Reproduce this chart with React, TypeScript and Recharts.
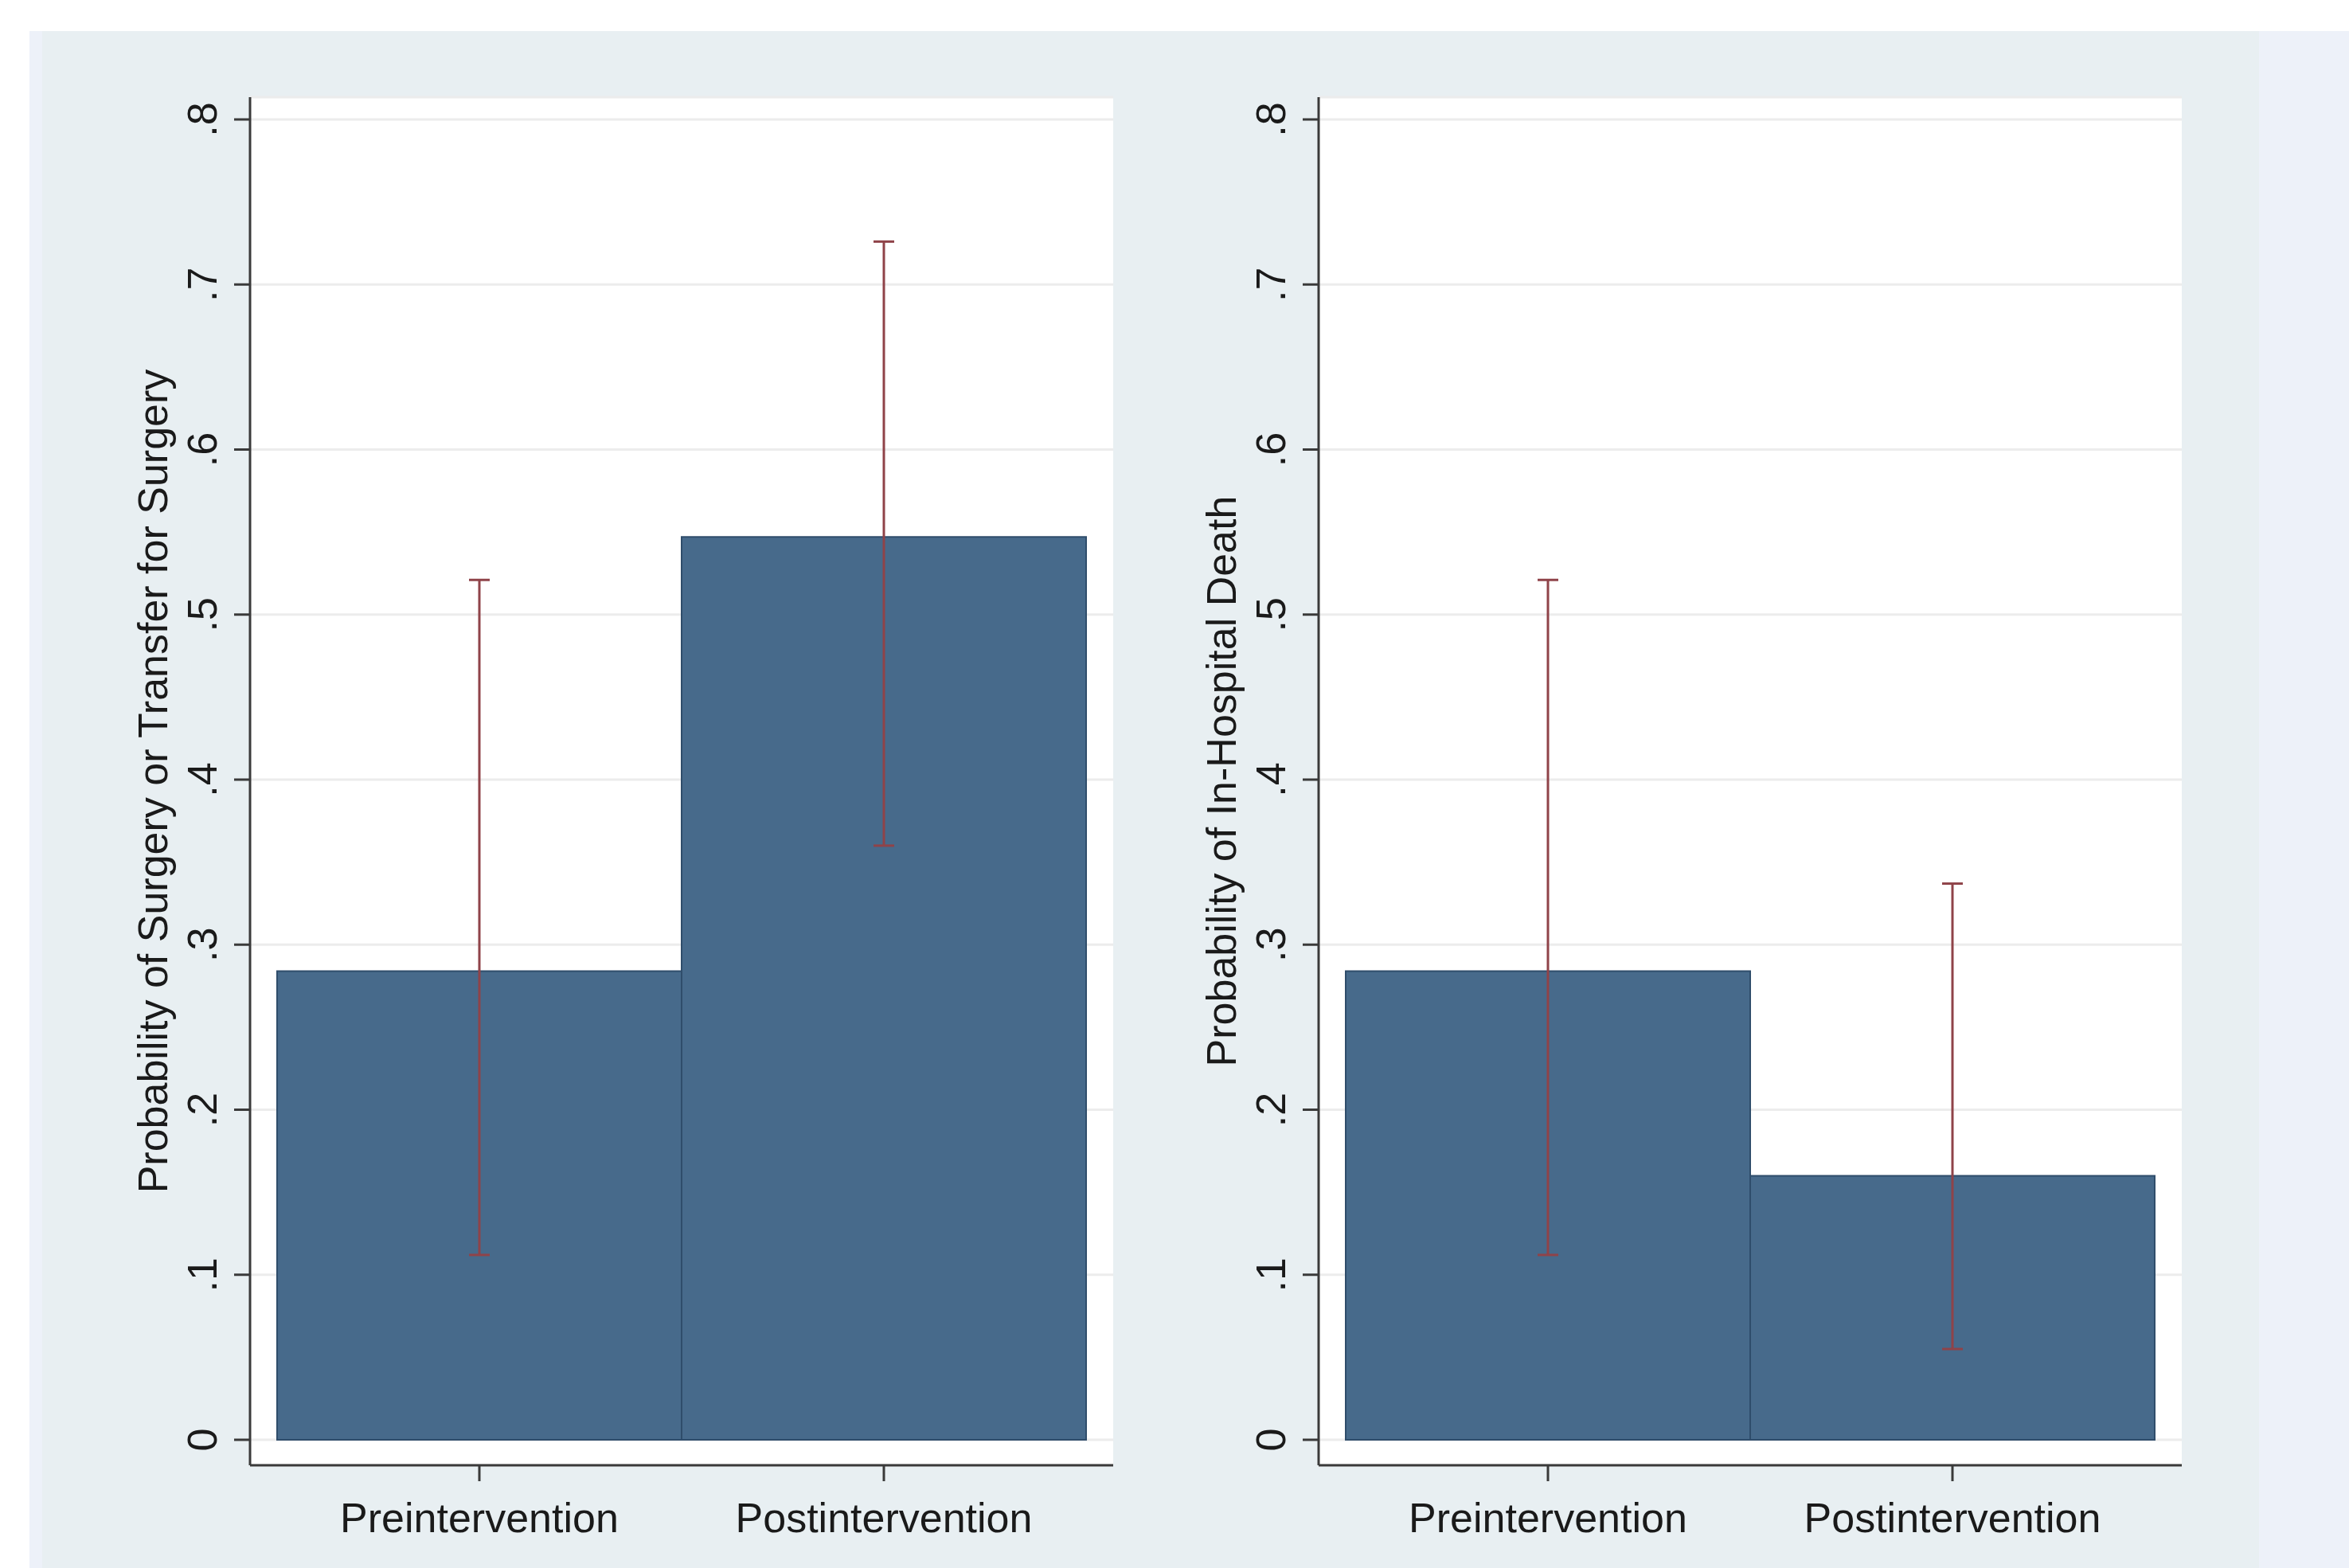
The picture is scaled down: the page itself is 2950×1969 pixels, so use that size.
import React from "react";
import { Bar, BarChart, CartesianGrid, ErrorBar, Label, XAxis, YAxis } from "recharts";

const categories = ["Preintervention", "Postintervention"];

const surgeryProb = [0.284, 0.547];
const surgeryLow = [0.112, 0.36];
const surgeryHigh = [0.521, 0.726];

const deathProb = [0.284, 0.16];
const deathLow = [0.112, 0.055];
const deathHigh = [0.521, 0.337];

const yTicks = [0, 0.1, 0.2, 0.3, 0.4, 0.5, 0.6, 0.7, 0.8];
const yTickLabels = ["0", ".1", ".2", ".3", ".4", ".5", ".6", ".7", ".8"];

const font = '"Liberation Sans", Arial, Helvetica, sans-serif';
const textColor = "#1a1a1a";
const axisColor = "#3a3a3a";

function buildRows(values: number[], low: number[], high: number[]) {
  return categories.map((name, i) => ({
    name,
    value: values[i],
    ci: [values[i] - low[i], high[i] - values[i]]
  }));
}

const YTick = (props: any) => {
  const { x, y, payload } = props;
  const bx = x - 20;
  const idx = yTicks.indexOf(payload.value);
  return (
    <text x={bx} y={y} transform={`rotate(-90 ${bx} ${y})`} textAnchor="middle" fontSize={52} fontFamily={font} fill={textColor}>
      {idx >= 0 ? yTickLabels[idx] : String(payload.value)}
    </text>
  );
};

const XTick = (props: any) => {
  const { x, y, payload } = props;
  return (
    <text x={x} y={y + 62} textAnchor="middle" fontSize={52} fontFamily={font} fill={textColor}>
      {payload.value}
    </text>
  );
};

interface PanelProps {
  left: number;
  marginLeft: number;
  marginRight: number;
  title: string;
  values: number[];
  low: number[];
  high: number[];
}

function Panel({ left, marginLeft, marginRight, title, values, low, high }: PanelProps) {
  const rows = buildRows(values, low, high);
  return (
    <div style={{ position: "absolute", left, top: 0 }}>
      <BarChart
        width={1475}
        height={1969}
        data={rows}
        barCategoryGap={0}
        margin={{ top: 122, right: marginRight, bottom: 29, left: marginLeft }}
      >
        <CartesianGrid horizontal vertical={false} fill="#ffffff" stroke="#ececec" strokeWidth={3} />
        <XAxis
          dataKey="name"
          height={100}
          padding={{ left: 34, right: 34 }}
          tickSize={20}
          tick={<XTick />}
          axisLine={{ stroke: axisColor, strokeWidth: 3 }}
          tickLine={{ stroke: axisColor, strokeWidth: 3 }}
        />
        <YAxis
          type="number"
          domain={[0, 0.8]}
          ticks={yTicks}
          width={150}
          padding={{ top: 28, bottom: 32 }}
          tickSize={20}
          tick={<YTick />}
          axisLine={{ stroke: axisColor, strokeWidth: 3 }}
          tickLine={{ stroke: axisColor, strokeWidth: 3 }}
        >
          <Label
            content={(p: any) => {
              const vb = p.viewBox;
              const lx = vb.x + vb.width - 104;
              const ly = vb.y + vb.height / 2;
              return (
                <text x={lx} y={ly} transform={`rotate(-90 ${lx} ${ly})`} textAnchor="middle" fontSize={52} fontFamily={font} fill={textColor}>
                  {title}
                </text>
              );
            }}
          />
        </YAxis>
        <Bar dataKey="value" fill="#476a8b" stroke="#2f4d6b" strokeWidth={2} isAnimationActive={false}>
          <ErrorBar dataKey="ci" direction="y" width={13} stroke="#8f4349" strokeWidth={3} isAnimationActive={false} />
        </Bar>
      </BarChart>
    </div>
  );
}

export default function App() {
  return (
    <div style={{ position: "absolute", left: 0, top: 0, width: 2950, height: 1969, background: "#ffffff", overflow: "hidden" }}>
      <div style={{ position: "absolute", left: 37, top: 39, width: 2913, height: 1930, background: "#e8eff2" }} />
      <div style={{ position: "absolute", left: 37, top: 39, width: 16, height: 1930, background: "#edf1f9" }} />
      <div style={{ position: "absolute", left: 2837, top: 39, width: 113, height: 1930, background: "#edf1f9" }} />
      <Panel
        left={0}
        marginLeft={164}
        marginRight={77}
        title="Probability of Surgery or Transfer for Surgery"
        values={surgeryProb}
        low={surgeryLow}
        high={surgeryHigh}
      />
      <Panel
        left={1475}
        marginLeft={31}
        marginRight={210}
        title="Probability of In-Hospital Death"
        values={deathProb}
        low={deathLow}
        high={deathHigh}
      />
    </div>
  );
}
